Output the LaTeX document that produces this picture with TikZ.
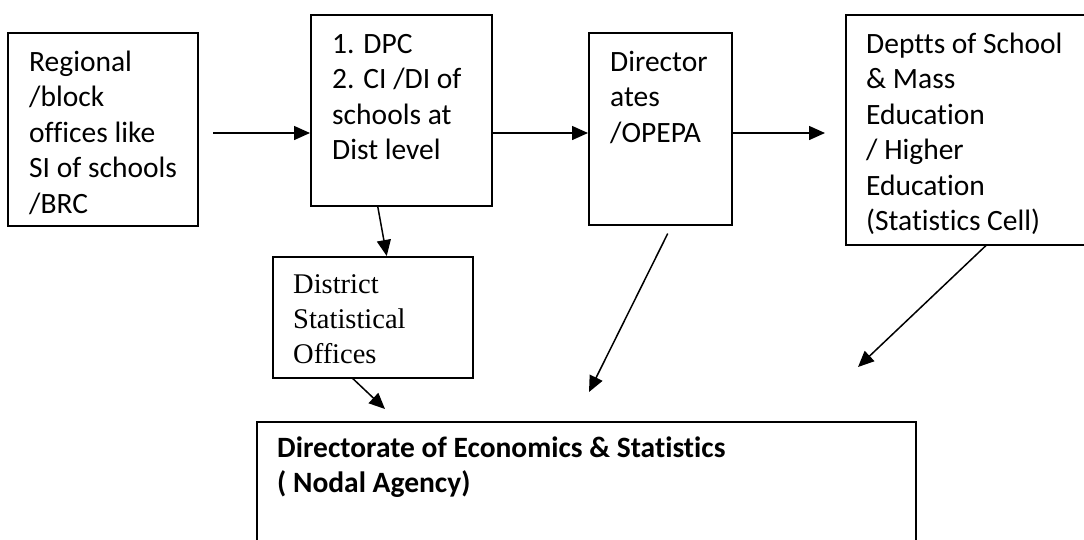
\documentclass[tikz,border=0pt]{standalone}
\usepackage{fontspec}
\setmainfont{Carlito}[Ligatures=NoCommon]
\newfontfamily\timesfont{Liberation Serif}
\usetikzlibrary{calc,arrows.meta}

\tikzset{
  frame/.style={draw, line width=1.5pt, anchor=north west, inner sep=0pt},
  txt/.style={anchor=north west, align=left, inner sep=0pt,
    font=\fontsize{29.5}{35.5}\selectfont},
  flow/.style={line width=1.5pt, -{Triangle[length=16pt,width=14pt]}}
}

\begin{document}
\begin{tikzpicture}[x=1pt,y=-1pt]
  \useasboundingbox (0,0) rectangle (1084,539);

  % the boxes
  \node[frame, minimum width=190pt, minimum height=193pt] (reg) at (7,32) {};
  \node[frame, minimum width=181pt, minimum height=191pt] (dpc) at (310,14) {};
  \node[frame, minimum width=143pt, minimum height=192pt] (dirs) at (588,32) {};
  \node[frame, minimum width=260pt, minimum height=230pt] (depts) at (845,14) {};
  \node[frame, minimum width=200pt, minimum height=121pt] (dso) at (272,256) {};
  \node[frame, minimum width=659pt, minimum height=140pt] (des) at (256,421) {};

  % what is written in them
  \node[txt] (reg-t) at ($(reg.north west)+(22,14)$)
    {\strut Regional\\/block\\offices like\\SI of schools\\/BRC};
  \node[txt] (dpc-t) at ($(dpc.north west)+(22,14)$)
    {\strut 1. DPC\\2. CI /DI of\\schools at\\Dist level};
  \node[txt] (dirs-t) at ($(dirs.north west)+(22,14)$)
    {\strut Director\\ates\\/OPEPA};
  \node[txt] (depts-t) at ($(depts.north west)+(21,14)$)
    {\strut Deptts of School\\\& Mass\\Education\\/ Higher\\Education\\(Statistics Cell)};
  \node[txt, font=\timesfont\fontsize{28.5}{35}\selectfont] (dso-t)
    at ($(dso.north west)+(21,13)$)
    {\strut District\\Statistical\\Offices};
  \node[txt, font=\bfseries\fontsize{29.5}{35}\selectfont] (des-t)
    at ($(des.north west)+(21,12)$)
    {\strut Directorate of Economics \& Statistics\\( Nodal Agency)};

  % row of arrows
  \coordinate (a1) at (213,133);
  \coordinate (a3) at (825,133);
  \draw[flow] (a1) -- (a1 -| dpc.west);
  \draw[flow] (dpc.east |- a1) -- (dirs.west |- a1);
  \draw[flow] (dirs.east |- a3) -- (a3);

  % arrows going down
  \coordinate (e1) at ($(des.north west)+(129,-12)$);
  \coordinate (e2) at ($(des.north west)+(333,-29)$);
  \coordinate (e3) at ($(des.north west)+(602,-54)$);
  \draw[flow] ($(dpc.south)+(-23.5,0)$) -- ($(dso.north)+(14,0)$);
  \draw[flow] ($(dso.south)+(-20,0)$) -- (e1);
  \draw[flow] ($(dirs.south)+(7.5,8)$) -- (e2);
  \draw[flow] ($(depts.south west)+(141,0)$) -- (e3);
\end{tikzpicture}
\end{document}
